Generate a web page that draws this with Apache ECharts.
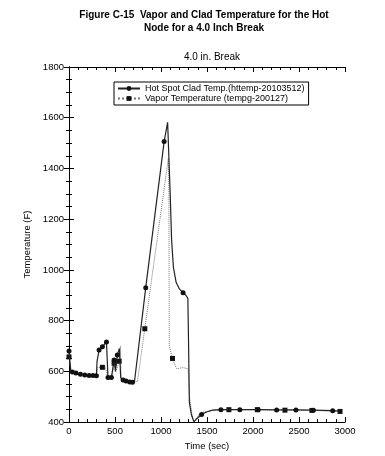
<!DOCTYPE html>
<html><head><meta charset="utf-8">
<script src="https://cdn.jsdelivr.net/npm/echarts@6/dist/echarts.min.js"></script>
<style>html,body{margin:0;padding:0;background:#fff}#c{width:385px;height:456px}</style>
</head><body><div id="c"></div>
<script>
// Hot Spot Clad Temp (solid, circles)
const cladT = [0,10,20,37,76,124,171,218,261,298,305,327,363,407,415,424,461,475,490,505,525,548,556,562,588,620,660,690,712,834,1034,1072,1100,1115,1135,1165,1200,1240,1270,1292,1300,1308,1330,1357,1380,1441,1495,1560,1651,1738,1857,2057,2257,2467,2656,2866,2946];
const cladV = [680,640,600,598,594,589,586,584,584,583,640,684,697,716,716,576,576,580,645,600,665,690,690,575,566,562,558,557,560,930,1506,1582,1300,1120,1010,950,925,910,900,888,700,480,430,402,410,430,440,447,449,449,449,449,448,448,447,445,443];
const cladMarks = [1,0,0,1,1,1,1,1,1,1,0,1,1,1,0,1,1,0,1,0,1,0,0,0,1,1,1,1,0,1,1,0,0,0,0,0,0,1,0,0,0,0,0,0,0,1,0,0,1,0,1,1,1,1,1,1,0];
// Vapor Temperature (dotted, squares)
const vaporT = [0,10,20,40,100,200,298,310,330,363,395,410,420,470,490,510,530,545,559,566,600,700,744,824,1080,1086,1090,1125,1168,1200,1240,1270,1295,1310,1340,1357,1400,1450,1550,1738,1850,2047,2347,2640,2946];
const vaporV = [657,630,600,596,590,585,584,615,620,616,618,618,576,576,632,600,620,640,700,575,565,557,560,768,1440,1300,700,651,611,612,615,612,610,500,420,400,425,438,446,449,449,449,447,446,442];
const vaporMarks = [1,0,0,0,0,0,0,0,0,1,0,0,0,0,1,0,0,1,0,0,0,0,0,1,0,0,0,1,0,0,0,0,0,0,0,0,0,0,0,1,0,1,1,1,1];
const xTicks = [0,500,1000,1500,2000,2500,3000];
const yTicks = [400,600,800,1000,1200,1400,1600,1800];
const seriesNames = ['Hot Spot Clad Temp.(httemp-20103512)','Vapor Temperature (tempg-200127)'];

function build(T,V,M){return T.map((t,i)=>M[i]?[t,V[i]]:{value:[t,V[i]],symbol:'none'});}

const chart = echarts.init(document.getElementById('c'));
const font = 'Liberation Sans, Arial, sans-serif';
const axisCommon = {
  axisLine:{show:true,lineStyle:{color:'#000',width:1}},
  axisTick:{show:true,inside:true,length:5,lineStyle:{color:'#000'}},
  minorTick:{show:true,splitNumber:4,length:3,lineStyle:{color:'#000'}},
  splitLine:{show:false}
};
chart.setOption({
  backgroundColor:'#fff',
  animation:false,
  title:[
    {text:'Figure C-15  Vapor and Clad Temperature for the Hot\nNode for a 4.0 Inch Break',left:199,top:4,textAlign:'center',
     textStyle:{fontFamily:font,fontSize:10,fontWeight:'bold',color:'#000',lineHeight:13}},
    {text:'4.0 in. Break',left:207,top:47,textAlign:'center',textStyle:{fontFamily:font,fontSize:10,fontWeight:'normal',color:'#000'}}
  ],
  legend:{
    orient:'vertical',left:114,top:82,data:seriesNames,
    borderColor:'#000',borderWidth:1,padding:[2,4,2,3],itemGap:1,itemWidth:22,itemHeight:6,
    textStyle:{fontFamily:font,fontSize:9,color:'#000',fontWeight:'normal'}
  },
  grid:{left:69,right:40,top:67,bottom:29},
  xAxis:[
    Object.assign({type:'value',min:0,max:3000,interval:500,name:'Time (sec)',nameLocation:'middle',nameGap:15,
      nameTextStyle:{fontFamily:font,fontSize:9.5,color:'#000'},
      axisLabel:{fontFamily:font,fontSize:9.5,color:'#000',margin:4,formatter:v=>xTicks.includes(v)?String(v):''}},axisCommon,
      {minorTick:{show:true,splitNumber:5,length:3,lineStyle:{color:'#000'}}}),
    Object.assign({type:'value',min:0,max:3000,interval:500,position:'top',axisLabel:{show:false}},axisCommon,
      {minorTick:{show:true,splitNumber:5,length:3,lineStyle:{color:'#000'}}})
  ],
  yAxis:[
    Object.assign({type:'value',min:400,max:1800,interval:200,name:'Temperature (F)',nameLocation:'middle',nameGap:25,
      nameTextStyle:{fontFamily:font,fontSize:9.5,color:'#000'},
      axisLabel:{fontFamily:font,fontSize:9.5,color:'#000',margin:5,formatter:v=>yTicks.includes(v)?String(v):''}},axisCommon),
    Object.assign({type:'value',min:400,max:1800,interval:200,position:'right',axisLabel:{show:false}},axisCommon)
  ],
  series:[
    {name:seriesNames[0],type:'line',data:build(cladT,cladV,cladMarks),symbol:'circle',symbolSize:5,showAllSymbol:true,
     lineStyle:{color:'#222',width:1.2},itemStyle:{color:'#111'},z:3},
    {name:seriesNames[1],type:'line',data:build(vaporT,vaporV,vaporMarks),symbol:'rect',symbolSize:5,showAllSymbol:true,
     lineStyle:{color:'#777',width:1,type:'dotted'},itemStyle:{color:'#111'},z:2}
  ]
});
</script></body></html>
